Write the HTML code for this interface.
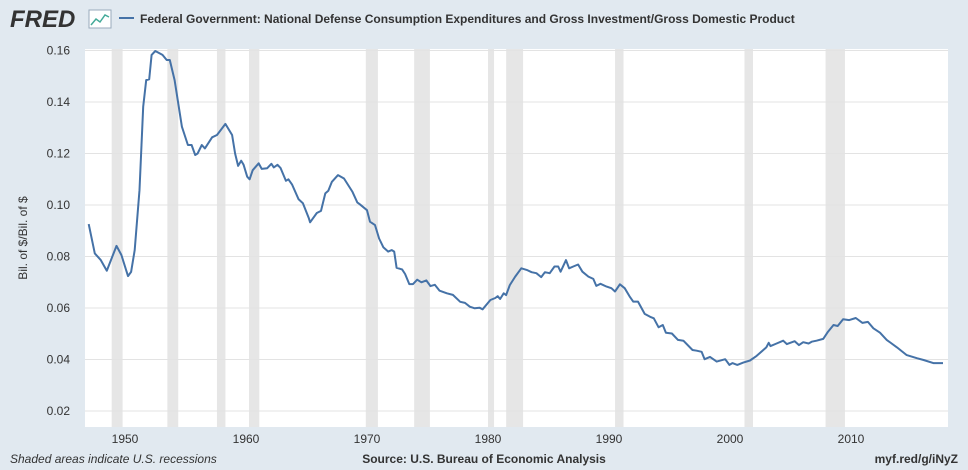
<!DOCTYPE html>
<html><head><meta charset="utf-8"><style>
body{margin:0;width:968px;height:470px;background:#e1e9f0;font-family:"Liberation Sans",sans-serif;overflow:hidden}
svg{position:absolute;left:0;top:0}
</style></head><body>
<svg width="968" height="470">
<rect x="85" y="49" width="863" height="378" fill="#fff"/>
<g id="rec"></g><g id="grid"></g><g id="xt"></g>
<path id="line" fill="none" stroke="#4572a7" stroke-width="2" stroke-linejoin="round"/>
<text x="10" y="27" font-size="24" font-weight="bold" font-style="italic" fill="#333">FRED</text>
<rect x="89" y="10" width="22" height="18" fill="#fff" stroke="#9ab"/>
<polyline points="91,25 96,19 100,22 105,15 109,17" fill="none" stroke="#4a9" stroke-width="1.5"/>
<line x1="119" y1="18" x2="134" y2="18" stroke="#4572a7" stroke-width="2"/>
<text x="140" y="23" font-size="12" fill="#333" font-weight="bold">Federal Government: National Defense Consumption Expenditures and Gross Investment/Gross Domestic Product</text>
<text transform="translate(27,238) rotate(-90)" text-anchor="middle" font-size="12" fill="#333">Bil. of $/Bil. of $</text>
<text x="10" y="463" font-size="12" font-style="italic" fill="#333">Shaded areas indicate U.S. recessions</text>
<text x="484" y="463" font-size="12" font-weight="bold" fill="#333" text-anchor="middle">Source: U.S. Bureau of Economic Analysis</text>
<text x="958" y="463" font-size="12" font-weight="bold" fill="#333" text-anchor="end">myf.red/g/iNyZ</text>
</svg>
<script>
const yearsData=[1947.0,1947.5,1948.0,1948.5,1949.3,1949.7,1950.25,1950.5,1950.8,1951.2,1951.5,1951.75,1952.0,1952.2,1952.5,1953.1,1953.45,1953.7,1954.1,1954.7,1955.2,1955.5,1955.8,1956.0,1956.35,1956.6,1957.2,1957.6,1958.3,1958.85,1959.1,1959.35,1959.6,1959.8,1960.1,1960.3,1960.55,1961.05,1961.3,1961.75,1962.1,1962.3,1962.6,1962.85,1963.3,1963.5,1963.8,1964.35,1964.7,1965.2,1965.3,1965.85,1966.2,1966.55,1966.8,1967.1,1967.6,1968.1,1968.8,1969.2,1969.4,1970.0,1970.25,1970.66,1971.0,1971.35,1971.75,1972.05,1972.25,1972.45,1972.9,1973.15,1973.5,1973.8,1974.15,1974.5,1974.9,1975.25,1975.6,1976.0,1976.6,1977.1,1977.7,1978.1,1978.5,1978.9,1979.3,1979.55,1980.2,1980.6,1980.8,1981.0,1981.3,1981.5,1981.8,1982.25,1982.75,1983.2,1983.6,1984.0,1984.4,1984.7,1985.1,1985.5,1985.8,1986.0,1986.45,1986.7,1987.05,1987.45,1987.8,1988.3,1988.7,1988.95,1989.3,1989.8,1990.2,1990.5,1990.9,1991.3,1991.7,1992.0,1992.4,1992.95,1993.4,1993.7,1994.1,1994.45,1994.7,1995.2,1995.7,1996.15,1996.9,1997.25,1997.65,1997.9,1998.35,1998.9,1999.6,1999.95,2000.2,2000.6,2001.1,2001.65,2002.2,2002.75,2003.0,2003.2,2003.35,2003.85,2004.4,2004.7,2005.35,2005.7,2006.05,2006.5,2006.75,2007.15,2007.7,2008.1,2008.55,2008.9,2009.35,2009.85,2010.4,2010.95,2011.4,2011.85,2012.4,2012.95,2013.8,2014.6,2015.45,2016.0,2016.8,2017.6];
const ratioValues=[0.0926,0.0812,0.0786,0.0745,0.0841,0.0806,0.0724,0.074,0.0825,0.1058,0.1382,0.1485,0.1488,0.1583,0.1598,0.1583,0.1563,0.1563,0.1485,0.1304,0.1233,0.1233,0.1194,0.120,0.1233,0.122,0.1263,0.1272,0.1315,0.1272,0.120,0.1152,0.1172,0.1156,0.111,0.110,0.1135,0.1162,0.114,0.1143,0.116,0.1146,0.1156,0.1144,0.1094,0.110,0.108,0.1022,0.1007,0.0948,0.0933,0.0969,0.0977,0.1045,0.1055,0.109,0.1116,0.1103,0.1051,0.101,0.1003,0.098,0.0935,0.0922,0.087,0.0836,0.0819,0.0825,0.0819,0.0756,0.075,0.0732,0.0693,0.0693,0.071,0.070,0.0707,0.0685,0.069,0.0667,0.0657,0.0651,0.0624,0.062,0.0605,0.0599,0.0601,0.0595,0.0631,0.0639,0.0646,0.0635,0.0657,0.065,0.0689,0.0722,0.0754,0.0748,0.0739,0.0735,0.072,0.0739,0.0735,0.0761,0.0761,0.0741,0.0786,0.0754,0.0761,0.0769,0.0741,0.0722,0.0713,0.0686,0.0694,0.0683,0.0677,0.0664,0.0692,0.0677,0.0645,0.0625,0.0625,0.0577,0.0566,0.056,0.0525,0.0534,0.0504,0.0501,0.0476,0.0473,0.0437,0.0434,0.043,0.0401,0.041,0.0392,0.0401,0.0379,0.0386,0.0379,0.0388,0.0396,0.0414,0.0437,0.0447,0.0465,0.0452,0.0462,0.0473,0.046,0.0471,0.0456,0.0467,0.0462,0.0469,0.0473,0.048,0.0508,0.0534,0.053,0.0556,0.0553,0.0561,0.0542,0.0546,0.0521,0.0504,0.0476,0.0447,0.0417,0.0405,0.0398,0.0386,0.0386];
const recessionStarts=[1948.9,1953.5,1957.6,1960.25,1969.9,1973.9,1980.0,1981.5,1990.5,2001.2,2007.9];
const recessionEnds=[1949.8,1954.4,1958.3,1961.1,1970.9,1975.2,1980.5,1982.9,1991.2,2001.9,2009.5];
const yTicks=[0.02,0.04,0.06,0.08,0.10,0.12,0.14,0.16];
const yTickLabels=["0.02","0.04","0.06","0.08","0.10","0.12","0.14","0.16"];
const xTicks=[1950,1960,1970,1980,1990,2000,2010];
const NS="http://www.w3.org/2000/svg";
function xS(yr){return 125+(yr-1950)*12.1;}
function yS(v){return 50.5+(0.16-v)/0.02*51.5;}
function mk(tag,attrs,parent){const e=document.createElementNS(NS,tag);for(const k in attrs)e.setAttribute(k,attrs[k]);document.getElementById(parent).appendChild(e);return e;}
recessionStarts.forEach((s,i)=>{
 const r=mk('rect',{x:xS(s),y:49,width:xS(recessionEnds[i])-xS(s),height:378,fill:'#e6e6e6'},'rec');
 
 
});
yTicks.forEach((v,i)=>{
 const l=mk('line',{x1:85,x2:948,y1:yS(v),y2:yS(v),stroke:'#e3e3e3','stroke-width':1},'grid');
 
 
 const t=mk('text',{x:70,y:yS(v)+4,'font-size':12,fill:'#333','text-anchor':'end'},'grid');
 t.textContent=yTickLabels[i];
 
 
});
xTicks.forEach(yr=>{
 const t=mk('text',{x:xS(yr),y:443,'font-size':12,fill:'#333','text-anchor':'middle'},'xt');
 t.textContent=yr;
 
 
});
document.getElementById('line').setAttribute('d',yearsData.map((yr,i)=>(i?'L':'M')+xS(yr).toFixed(1)+','+yS(ratioValues[i]).toFixed(1)).join(''));
</script>
</body></html>
